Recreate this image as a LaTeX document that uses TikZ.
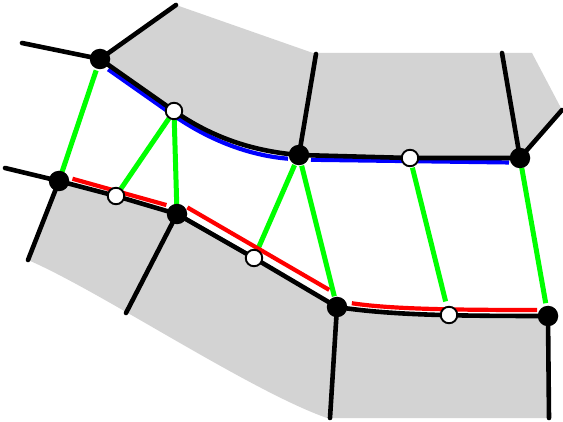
\documentclass[tikz,border=0pt]{standalone}
\pgfdeclarelayer{bg}
\pgfsetlayers{bg,main}
\definecolor{cellgray}{RGB}{211,211,211}
\definecolor{edgegreen}{RGB}{0,255,0}
\definecolor{edgered}{RGB}{255,0,0}
\definecolor{edgeblue}{RGB}{0,0,255}
\tikzset{
  vtx/.style={circle, fill=black, inner sep=0pt, minimum size=20.5pt},
  mid/.style={circle, fill=white, draw=black, line width=1.9pt, inner sep=0pt, minimum size=16.5pt},
  cell/.style={fill=cellgray, draw=none},
  wall/.style={black, line width=4.6pt, line cap=round, line join=round},
  link/.style={edgegreen, line width=5pt, shorten <=9pt, shorten >=9pt},
  lowside/.style={edgered, line width=4.2pt, shorten <=12pt, shorten >=11pt,
                  transform canvas={yshift=6pt}},
  upside/.style={edgeblue, line width=4.2pt, shorten <=10pt, shorten >=11pt,
                 transform canvas={yshift=-4.6pt}},
}
\begin{document}
\begin{tikzpicture}[x=1pt,y=1pt]
\useasboundingbox (0,0) rectangle (563,421);

% junctions
\node[vtx] (A) at (100,362) {};
\node[vtx] (B) at (299,266) {};
\node[vtx] (C) at (520,263) {};
\node[vtx] (D) at (59,240) {};
\node[vtx] (E) at (177,207) {};
\node[vtx] (F) at (337,114) {};
\node[vtx] (G) at (548,105) {};
% points on the two boundaries
\node[mid] (a) at (174,310) {};
\node[mid] (b) at (410,263) {};
\node[mid] (c) at (116,225) {};
\node[mid] (d) at (254,163) {};
\node[mid] (e) at (449,106) {};

% free ends of the walls
\coordinate (Al) at (22,378);
\coordinate (At) at (176,416);
\coordinate (Bt) at (316,367);
\coordinate (Ct) at (502,368);
\coordinate (Cr) at (562,311);
\coordinate (Dl) at (5,253);
\coordinate (Db) at (28,161);
\coordinate (Eb) at (126,108);
\coordinate (Fb) at (330,3);
\coordinate (Gb) at (549,3);

\begin{pgfonlayer}{bg}
% shaded cells
\fill[cell] (At) -- (313,368) -- (532,368) -- (Cr) -- (C.center) -- (b.center)
  -- (B.center) .. controls (250,270) and (210,285) .. (a.center) -- (A.center) -- cycle;
\fill[cell] (D.center) -- (Db) .. controls (100,130) and (250,30) .. (327,3)
  -- (Gb) -- (G.center) .. controls (450,105) and (390,106) .. (F.center)
  -- (d.center) -- (E.center) -- (c.center) -- cycle;

% links between the boundaries
\draw[link, shorten <=12pt] (A.center) -- (D.center);
\draw[link] (a.center) -- (c.center);
\draw[link] (a.center) -- (E.center);
\draw[link, shorten <=11pt] (B.center) -- (d.center);
\draw[link, shorten <=11pt, shorten >=11pt] (B.center) -- (F.center);
\draw[link, shorten <=10pt, shorten >=14pt] (b.center) -- (e.center);
\draw[link, shorten <=10pt, shorten >=13pt] (C.center) -- (G.center);

% coloured sides
\draw[upside] (A.center) -- (a.center) .. controls (210,285) and (250,270) .. (B.center);
\draw[upside, shorten <=12pt] (B.center) -- (C.center);
\draw[lowside, shorten <=14pt] (D.center) -- (E.center);
\draw[lowside, transform canvas={yshift=6.6pt}, shorten >=9pt] (E.center) -- (F.center);
\draw[lowside, shorten <=15pt] (F.center) .. controls (390,106) and (450,105) .. (G.center);

% walls
\draw[wall] (A.center) -- (a.center) .. controls (210,285) and (250,270) .. (B.center)
  -- (b.center) -- (C.center);
\draw[wall] (D.center) -- (c.center) -- (E.center) -- (d.center) -- (F.center)
  .. controls (390,106) and (450,105) .. (G.center);
\draw[wall] (A.center) -- (Al);
\draw[wall] (A.center) -- (At);
\draw[wall] (B.center) -- (Bt);
\draw[wall] (C.center) -- (Ct);
\draw[wall] (C.center) -- (Cr);
\draw[wall] (D.center) -- (Dl);
\draw[wall] (D.center) -- (Db);
\draw[wall] (E.center) -- (Eb);
\draw[wall] (F.center) -- (Fb);
\draw[wall] (G.center) -- (Gb);
\end{pgfonlayer}
\end{tikzpicture}
\end{document}
